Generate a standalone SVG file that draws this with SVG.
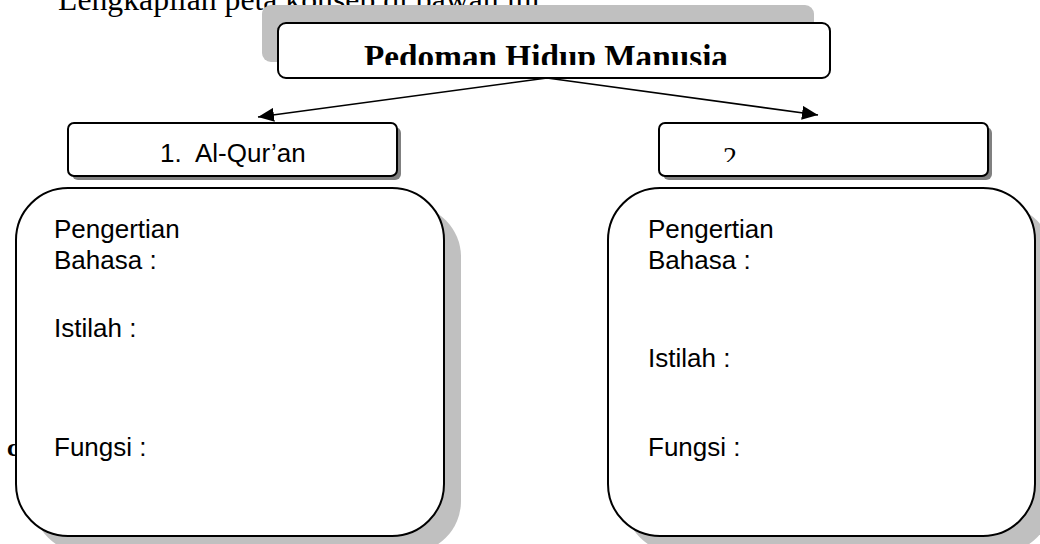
<svg xmlns="http://www.w3.org/2000/svg" width="1040" height="544" viewBox="0 0 1040 544">
<style>
.box{fill:#fff;stroke:#000;stroke-width:2}
.sh1{fill:#c0c0c0}
.sh2{fill:#808080}
.t{font-family:"Liberation Sans",Arial,sans-serif;font-size:26px;fill:#000}
.serif{font-family:"Liberation Serif","Times New Roman",serif;fill:#000}
.conn{stroke:#000;stroke-width:1.6;fill:none}
</style>
<defs>
<marker id="arrh" viewBox="0 0 16 14" refX="16" refY="7" markerWidth="16" markerHeight="14" markerUnits="userSpaceOnUse" orient="auto">
<path d="M0,0 L16,7 L0,14 z" fill="#000"/>
</marker>
<clipPath id="clipTitle"><rect x="280" y="25" width="548" height="40"/></clipPath>
<clipPath id="clip2"><rect x="660" y="125" width="326" height="37"/></clipPath>
</defs>

<text class="serif" x="58" y="10" font-size="31" textLength="490" lengthAdjust="spacingAndGlyphs">Lengkapilah peta konsep di bawah ini.</text>
<text class="serif" x="7" y="456" font-size="26" font-weight="bold">c</text>

<g id="node-top">
<rect class="sh1" x="262" y="5" width="552" height="57" rx="9"/>
<rect class="box" x="278" y="23" width="552" height="55" rx="8"/>
<text class="serif" x="364" y="68" font-size="34" font-weight="bold" textLength="364" lengthAdjust="spacingAndGlyphs" clip-path="url(#clipTitle)">Pedoman Hidup Manusia</text>
</g>

<g id="node-quran">
<rect class="sh2" x="72" y="127" width="329" height="53" rx="6"/>
<rect class="box" x="68" y="123" width="329" height="53" rx="6"/>
<text class="t" x="160" y="162">1.</text>
<text class="t" x="195" y="162">Al-Qur’an</text>
</g>

<g id="node-2">
<rect class="sh2" x="663" y="127" width="329" height="53" rx="6"/>
<rect class="box" x="659" y="123" width="329" height="53" rx="6"/>
<text class="serif" x="723" y="166" font-size="28" clip-path="url(#clip2)">2.</text>
</g>

<g id="node-left-detail">
<rect class="sh1" x="33" y="205" width="428" height="348" rx="52"/>
<rect class="box" x="16" y="188" width="428" height="348" rx="52"/>
<text class="t" x="54" y="238">Pengertian</text>
<text class="t" x="54" y="269">Bahasa :</text>
<text class="t" x="54" y="337">Istilah :</text>
<text class="t" x="54" y="456">Fungsi :</text>
</g>

<g id="node-right-detail">
<rect class="sh1" x="625" y="205" width="427" height="348" rx="52"/>
<rect class="box" x="608" y="188" width="427" height="348" rx="52"/>
<text class="t" x="648" y="238">Pengertian</text>
<text class="t" x="648" y="269">Bahasa :</text>
<text class="t" x="648" y="367">Istilah :</text>
<text class="t" x="648" y="456">Fungsi :</text>
</g>

<g id="connectors">
<line class="conn" x1="547" y1="78" x2="258" y2="117" marker-end="url(#arrh)"/>
<line class="conn" x1="547" y1="78" x2="818" y2="115" marker-end="url(#arrh)"/>
</g>
</svg>
